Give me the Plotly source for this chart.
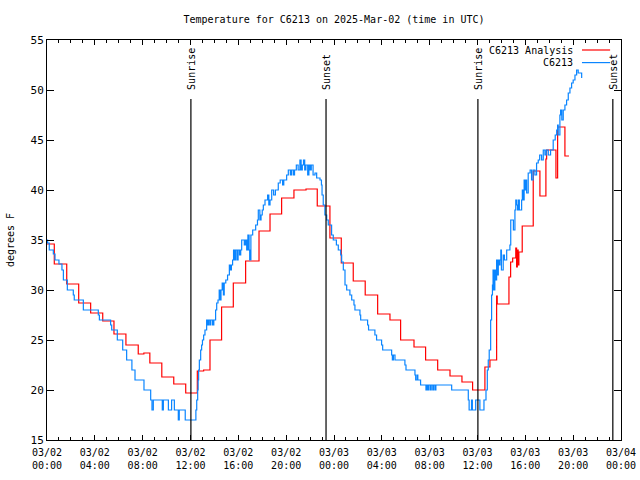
import pandas as pd
import plotly.graph_objects as go

START = pd.Timestamp("2025-03-02 00:00")

# Hours since 2025-03-02 00:00 UTC and temperatures (degrees F)
analysis_name = "C6213 Analysis"
analysis_hours = [0.0, 0.61, 1.65, 2.65, 3.65, 4.66, 5.6, 6.6, 7.63, 8.1, 8.6, 9.6, 10.6, 11.6,
                  12.57, 13.1, 13.63, 14.6, 15.58, 16.61, 17.73, 18.65, 19.62, 20.65, 21.66,
                  22.6, 23.66, 24.61, 25.61, 26.61, 27.65, 28.68, 29.57, 30.69, 31.66, 32.67,
                  33.7, 34.7, 35.59, 36.62, 37.04, 37.6, 37.65, 38.63, 38.77, 38.94, 39.2,
                  39.27, 39.33, 39.4, 39.46, 39.74, 40.66, 41.22, 41.72, 41.78, 42.56, 42.7,
                  43.31, 43.65]
analysis_temps = [34.6, 32.6, 30.6, 28.7, 27.7, 26.9, 25.6, 24.5, 23.6, 23.7, 22.7, 21.3, 20.6, 19.7,
                  21.9, 22.0, 25.0, 28.3, 30.7, 32.9, 35.9, 37.6, 39.2, 40.0, 40.1,
                  38.4, 35.2, 32.7, 30.9, 29.5, 27.6, 27.0, 25.0, 24.3, 23.0, 22.0,
                  21.4, 20.8, 20.0, 22.3, 23.0, 29.4, 28.6, 31.3, 32.8, 33.2, 34.2,
                  32.3, 34.0, 32.5, 33.8, 36.4, 41.9, 39.4, 43.1, 44.0, 41.2, 46.3,
                  43.4, 43.4]

obs_name = "C6213"
obs_hours = [0.0, 0.05, 0.19, 0.53, 0.67, 1.0, 1.25, 1.37, 1.7, 2.2, 2.28, 3.04, 4.29, 4.38,
             5.32, 5.41, 5.88, 6.33, 6.66, 7.1, 7.36, 8.11, 8.67, 8.78, 8.89, 9.64, 9.73,
             10.15, 10.42, 10.65, 10.98, 11.06, 11.56, 12.45, 12.52,
             12.57, 12.6, 12.64, 12.68, 12.74, 12.85, 12.93, 13.0, 13.1, 13.21, 13.35, 13.45,
             13.52, 13.63, 13.7, 13.85, 13.95, 14.1, 14.19, 14.3, 14.4, 14.48, 14.55, 14.65,
             14.75, 14.82, 14.95, 15.1, 15.25, 15.35, 15.42, 15.52, 15.6, 15.7, 15.78, 15.9,
             15.98, 16.1, 16.2, 16.28, 16.5, 16.6, 16.7, 16.8, 16.9, 16.95, 17.05, 17.2,
             17.45, 17.6, 17.67, 17.8, 17.9, 18.0, 18.09, 18.23, 18.45, 18.55, 18.65, 18.79,
             18.95, 19.1, 19.34, 19.5, 19.7, 19.8, 20.04, 20.18, 20.35, 20.45, 20.6, 20.7,
             20.85, 21.0, 21.15, 21.25, 21.35, 21.45, 21.55, 21.65, 21.8, 21.9, 22.0, 22.1,
             22.25, 22.41, 22.55, 22.83, 22.95, 23.0, 23.1, 23.24, 23.39, 23.52, 23.8,
             23.94, 24.2, 24.36, 24.56, 24.64, 24.78, 24.92, 25.06, 25.33, 25.48, 25.67,
             25.75, 26.17, 26.23, 26.81, 26.89, 27.42, 27.56, 27.98, 28.07, 28.82, 28.88,
             28.97, 29.1, 29.93, 30.02, 30.77, 30.83, 30.95, 31.01, 31.24, 31.69, 31.76,
             31.86, 31.93, 32.06, 32.13, 32.26, 32.33, 32.45, 32.52, 33.84, 35.23,
             35.3, 35.5, 35.57, 35.85, 36.2, 36.54, 36.71, 36.82, 36.9,
             36.98, 37.1, 37.18, 37.25, 37.3, 37.35, 37.45, 37.5, 37.6, 37.65, 37.74, 37.8,
             37.88, 37.95, 38.0, 38.15, 38.25, 38.44, 38.57, 38.71, 38.78, 39.0, 39.13, 39.2,
             39.27, 39.35, 39.41, 39.5, 39.69, 39.75, 39.83, 39.9, 39.97, 40.05, 40.11, 40.24,
             40.4, 40.45, 40.52, 40.65, 40.8, 40.94, 41.08, 41.2, 41.36, 41.5, 41.64, 41.75,
             41.92, 42.11, 42.33, 42.5, 42.62, 42.7, 42.75, 42.89, 42.95, 43.05, 43.17, 43.31,
             43.45, 43.59, 43.73, 43.87, 44.0, 44.15, 44.29, 44.42, 44.71]
obs_temps = [35.0, 34.7, 34.0, 33.6, 33.0, 32.6, 32.0, 31.0, 30.0, 29.5, 29.0, 28.0, 27.5, 27.0,
             26.5, 26.0, 25.0, 24.0, 23.0, 22.0, 21.0, 20.0, 19.0, 18.0, 19.0, 18.0, 19.0,
             18.0, 19.0, 18.0, 17.0, 18.0, 17.0, 18.0, 19.0,
             19.0, 20.0, 21.0, 22.0, 23.0, 24.0, 24.5, 25.0, 25.5, 26.0, 27.0, 26.5,
             27.0, 26.5, 27.0, 26.5, 27.0, 28.0, 28.7, 29.0, 30.0, 29.0, 30.0, 30.7,
             29.5, 30.7, 31.0, 31.5, 32.5, 32.0, 32.5, 33.0, 34.0, 33.0, 34.0, 33.0,
             34.0, 33.5, 34.0, 35.0, 34.5, 35.0, 34.0, 35.5, 34.0, 33.0, 35.5, 36.0,
             36.5, 37.0, 38.0, 37.0, 37.5, 38.0, 38.5, 39.0, 39.5, 38.5, 39.0, 40.0,
             39.5, 40.0, 40.7, 41.0, 40.5, 41.0, 41.5, 42.0, 41.5, 42.0, 41.5, 42.0,
             42.5, 42.0, 43.0, 42.0, 42.5, 43.0, 42.0, 42.5, 41.5, 42.5, 42.0, 42.5,
             41.5, 41.7, 41.2, 41.0, 40.5, 39.5, 38.5, 37.5, 37.0, 36.5, 35.5,
             35.0, 34.5, 34.0, 33.5, 32.8, 32.0, 30.5, 30.0, 29.5, 29.0, 28.5,
             28.0, 27.5, 27.0, 26.5, 26.0, 25.5, 25.0, 24.5, 24.0, 23.5, 23.0,
             23.5, 23.0, 22.5, 22.0, 21.5, 21.0, 21.5, 21.0, 20.5, 20.0,
             20.5, 20.0, 20.5, 20.0, 20.5, 20.0, 20.5, 20.0, 20.5, 20.0, 19.0, 18.0,
             19.0, 18.0, 19.0, 18.0, 19.0, 20.0, 22.0, 23.0, 24.0,
             27.0, 29.5, 30.5, 32.0, 30.0, 32.0, 31.0, 33.0, 31.5, 33.0, 32.5, 33.0,
             34.0, 32.0, 33.5, 33.0, 34.0, 34.0, 34.5, 37.0, 36.0, 38.0, 39.0, 38.5,
             38.0, 39.0, 38.0, 39.0, 40.0, 39.0, 41.0, 40.0, 41.0, 39.7, 41.7, 42.0,
             42.0, 41.0, 42.0, 41.5, 42.7, 43.0, 43.5, 43.0, 44.0, 43.5, 44.0, 43.5,
             44.0, 45.0, 45.5, 46.0, 46.5, 45.5, 47.5, 48.0, 47.0, 48.0, 48.5, 49.0,
             49.7, 50.2, 50.7, 51.0, 51.5, 52.0, 51.7, 51.2, 51.1]

event_names = ["Sunrise", "Sunset", "Sunrise", "Sunset"]
event_times = ["2025-03-02 12:02", "2025-03-02 23:20", "2025-03-03 12:02", "2025-03-03 23:19"]

tick_times = ["2025-03-02 00:00", "2025-03-02 04:00", "2025-03-02 08:00", "2025-03-02 12:00",
              "2025-03-02 16:00", "2025-03-02 20:00", "2025-03-03 00:00", "2025-03-03 04:00",
              "2025-03-03 08:00", "2025-03-03 12:00", "2025-03-03 16:00", "2025-03-03 20:00",
              "2025-03-04 00:00"]
tick_labels = ["03/02<br>00:00", "03/02<br>04:00", "03/02<br>08:00", "03/02<br>12:00",
               "03/02<br>16:00", "03/02<br>20:00", "03/03<br>00:00", "03/03<br>04:00",
               "03/03<br>08:00", "03/03<br>12:00", "03/03<br>16:00", "03/03<br>20:00",
               "03/04<br>00:00"]

title_text = "Temperature for C6213 on 2025-Mar-02 (time in UTC)"
y_title = "degrees F"

RED = "#ff0000"
BLUE = "#0a85ff"
FONT = "DejaVu Sans Mono"


def to_time(hours):
    return START + pd.to_timedelta(hours, unit="h")


fig = go.Figure()
fig.add_trace(go.Scatter(x=to_time(analysis_hours), y=analysis_temps, mode="lines",
                         line=dict(color=RED, width=1.2, shape="hv"), name=analysis_name,
                         showlegend=False))
fig.add_trace(go.Scatter(x=to_time(obs_hours), y=obs_temps, mode="lines",
                         line=dict(color=BLUE, width=1.2, shape="hv"), name=obs_name,
                         showlegend=False))

for name, t in zip(event_names, event_times):
    fig.add_shape(type="line", xref="x", yref="y", x0=t, x1=t, y0=15, y1=49.1,
                  line=dict(color="black", width=1.2))
    fig.add_annotation(x=t, y=49.8, xref="x", yref="y", text=name, textangle=-90,
                       showarrow=False, xanchor="center", yanchor="bottom",
                       font=dict(family=FONT, size=10, color="black"))

# manual gnuplot-style legend (text left, sample line right)
legend_rows = [(analysis_name, RED, 0.975), (obs_name, BLUE, 0.9435)]
for name, col, yy in legend_rows:
    fig.add_annotation(x=0.9199, y=yy, xref="paper", yref="paper", text=name,
                       showarrow=False, xanchor="right", yanchor="middle",
                       font=dict(family=FONT, size=10, color="black"))
    fig.add_shape(type="line", xref="paper", yref="paper", x0=0.932, x1=0.981, y0=yy, y1=yy,
                  line=dict(color=col, width=1.2))

fig.update_layout(
    width=640, height=480,
    margin=dict(l=47, r=19, t=40, b=40, autoexpand=False),
    paper_bgcolor="white", plot_bgcolor="white",
    font=dict(family=FONT, size=10, color="black"),
    title=dict(text=title_text, x=0.5, xref="paper", y=1 - 19 / 480, yref="container",
               xanchor="center", yanchor="middle", font=dict(family=FONT, size=10)),
)
fig.update_xaxes(
    type="date", range=["2025-03-02 00:00", "2025-03-04 00:00"], automargin=False,
    tickvals=tick_times, ticktext=tick_labels,
    ticks="inside", ticklen=5, tickcolor="black", tickwidth=1,
    ticklabelstandoff=3,
    minor=dict(ticks="inside", ticklen=3, dtick=3600000, tick0="2025-03-02", tickcolor="black"),
    showline=True, linecolor="black", linewidth=1, mirror="ticks",
    showgrid=False, zeroline=False,
    tickfont=dict(family=FONT, size=10),
)
fig.update_yaxes(
    range=[15, 55], dtick=5, tick0=15, automargin=False,
    ticks="inside", ticklen=7, tickcolor="black", tickwidth=1,
    showline=True, linecolor="black", linewidth=1, mirror="ticks",
    showgrid=False, zeroline=False,
    tickfont=dict(family=FONT, size=11),
    title=dict(text=y_title, font=dict(family=FONT, size=10), standoff=14),
)

fig.write_html("out.html", config={"displayModeBar": False},
               post_script="document.body.style.margin='0';document.body.style.overflow='hidden';")
